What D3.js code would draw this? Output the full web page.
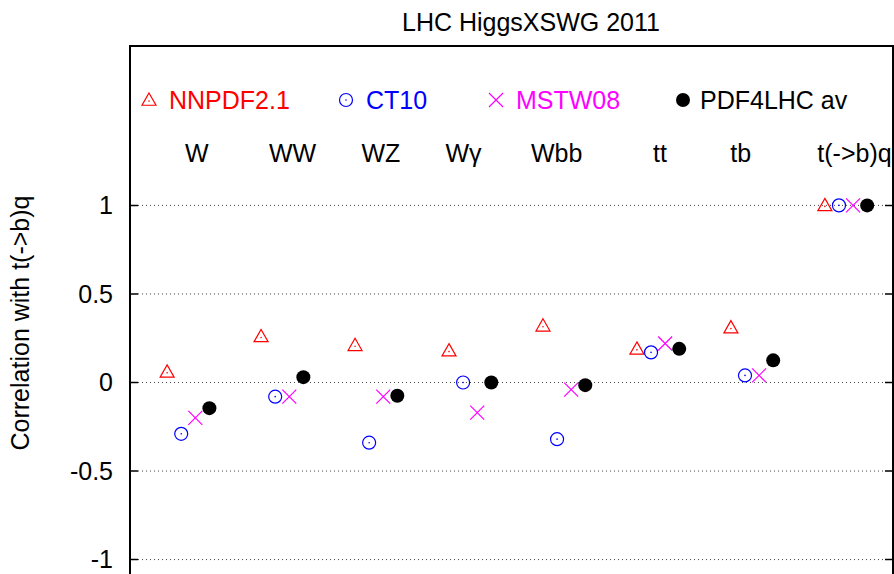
<!DOCTYPE html>
<html>
<head>
<meta charset="utf-8">
<script src="https://cdn.jsdelivr.net/npm/d3@7"></script>
<style>
  body { margin: 0; background: #fff; }
  svg { display: block; font-family: "Liberation Sans", Arial, sans-serif; }
</style>
</head>
<body>
<svg id="chart" width="894" height="574"></svg>
<script>
// processes (x categories) and where their text label sits, in x-axis units
const processes = ["W", "WW", "WZ", "W\u03b3", "Wbb", "tt", "tb", "t(->b)q"];
const labelAt   = [1.09, 2.11, 3.05, 3.93, 4.92, 6.02, 6.88, 8.09];

// correlation with t(->b)q, one array per PDF set
const nnpdf   = [0.06, 0.26, 0.21, 0.18, 0.32, 0.19, 0.31, 1.0];
const ct10    = [-0.29, -0.08, -0.34, 0.0, -0.32, 0.17, 0.04, 1.0];
const mstw    = [-0.20, -0.08, -0.08, -0.17, -0.04, 0.22, 0.04, 1.0];
const pdf4lhc = [-0.145, 0.03, -0.075, 0.0, -0.015, 0.19, 0.125, 1.0];

const yTicks = [-1, -0.5, 0, 0.5, 1];

const series = [
    {name: "NNPDF2.1",   values: nnpdf,   color: "#ff0000", shape: "tri",    off: -0.225, lx: 149},
    {name: "CT10",       values: ct10,    color: "#0000ff", shape: "circle", off: -0.075, lx: 346},
    {name: "MSTW08",     values: mstw,    color: "#ff00ff", shape: "cross",  off: 0.075,  lx: 496},
    {name: "PDF4LHC av", values: pdf4lhc, color: "#000000", shape: "dot",    off: 0.225,  lx: 683}
];

const mLeft = 130, mRight = 893, mTop = 46, mBottom = 595;

const x = d3.scaleLinear().domain([0.38, 8.5]).range([mLeft, mRight]);
const y = d3.scaleLinear().domain([-1.2, 1.9]).range([mBottom, mTop]);

const svg = d3.select("#chart");

// grid (dotted)
svg.append("g")
    .selectAll("line")
    .data(yTicks)
    .join("line")
    .attr("x1", mLeft + 8)
    .attr("x2", mRight - 7)
    .attr("y1", d => y(d))
    .attr("y2", d => y(d))
    .attr("stroke", "#444")
    .attr("stroke-width", 1)
    .attr("stroke-dasharray", "1,3");

// ticks on both sides, pointing in
svg.append("g")
    .selectAll("path")
    .data(yTicks)
    .join("path")
    .attr("d", d => `M${mLeft},${y(d)}h8M${mRight},${y(d)}h-8`)
    .attr("stroke", "#000")
    .attr("stroke-width", 1.5);

// frame
svg.append("path")
    .attr("d", `M${mLeft},${mBottom}V${mTop}H${mRight}V${mBottom}`)
    .attr("fill", "none")
    .attr("stroke", "#000")
    .attr("stroke-width", 2);

// tick labels (plain hyphen for minus, like gnuplot)
svg.append("g")
    .selectAll("text")
    .data(yTicks)
    .join("text")
    .attr("x", mLeft - 17)
    .attr("y", d => y(d))
    .attr("dy", "0.35em")
    .attr("text-anchor", "end")
    .attr("font-size", 25)
    .text(d => String(d));

// title
svg.append("text")
    .attr("x", 531)
    .attr("y", 31)
    .attr("text-anchor", "middle")
    .attr("font-size", 25)
    .text("LHC HiggsXSWG 2011");

// y label
svg.append("text")
    .attr("transform", "translate(29,323) rotate(-90)")
    .attr("text-anchor", "middle")
    .attr("font-size", 25)
    .text("Correlation with t(->b)q");

// process labels
svg.append("g")
    .selectAll("text")
    .data(processes)
    .join("text")
    .attr("x", (d, i) => x(labelAt[i]))
    .attr("y", 162)
    .attr("text-anchor", "middle")
    .attr("font-size", 25)
    .text(d => d);

function marker(g, shape, color) {
    const s = 7;
    if (shape === "tri") {
        g.append("path")
            .attr("d", `M0,${-s}L${s},${s * 0.75}L${-s},${s * 0.75}Z`)
            .attr("fill", "none").attr("stroke", color).attr("stroke-width", 1.2);
        g.append("circle").attr("r", 0.8).attr("cy", 1).attr("fill", color);
    } else if (shape === "circle") {
        g.append("circle").attr("r", 6.5)
            .attr("fill", "none").attr("stroke", color).attr("stroke-width", 1.2);
        g.append("circle").attr("r", 0.8).attr("fill", color);
    } else if (shape === "cross") {
        g.append("path")
            .attr("d", `M${-s},${-s}L${s},${s}M${-s},${s}L${s},${-s}`)
            .attr("stroke", color).attr("stroke-width", 1.2);
    } else {
        g.append("circle").attr("r", 7).attr("fill", color);
    }
}

// points
series.forEach(s => {
    svg.append("g")
        .selectAll("g")
        .data(s.values)
        .join("g")
        .attr("transform", (d, i) => `translate(${x(i + 1 + s.off)},${y(d)})`)
        .each(function () { marker(d3.select(this), s.shape, s.color); });
});

// legend
const legend = svg.append("g")
    .selectAll("g")
    .data(series)
    .join("g")
    .attr("transform", d => `translate(${d.lx},100)`);
legend.each(function (d) { marker(d3.select(this), d.shape, d.color); });
legend.append("text")
    .attr("x", d => d.shape === "dot" ? 17 : 20)
    .attr("y", 9)
    .attr("font-size", 25)
    .attr("fill", d => d.color)
    .text(d => d.name);
</script>
</body>
</html>
